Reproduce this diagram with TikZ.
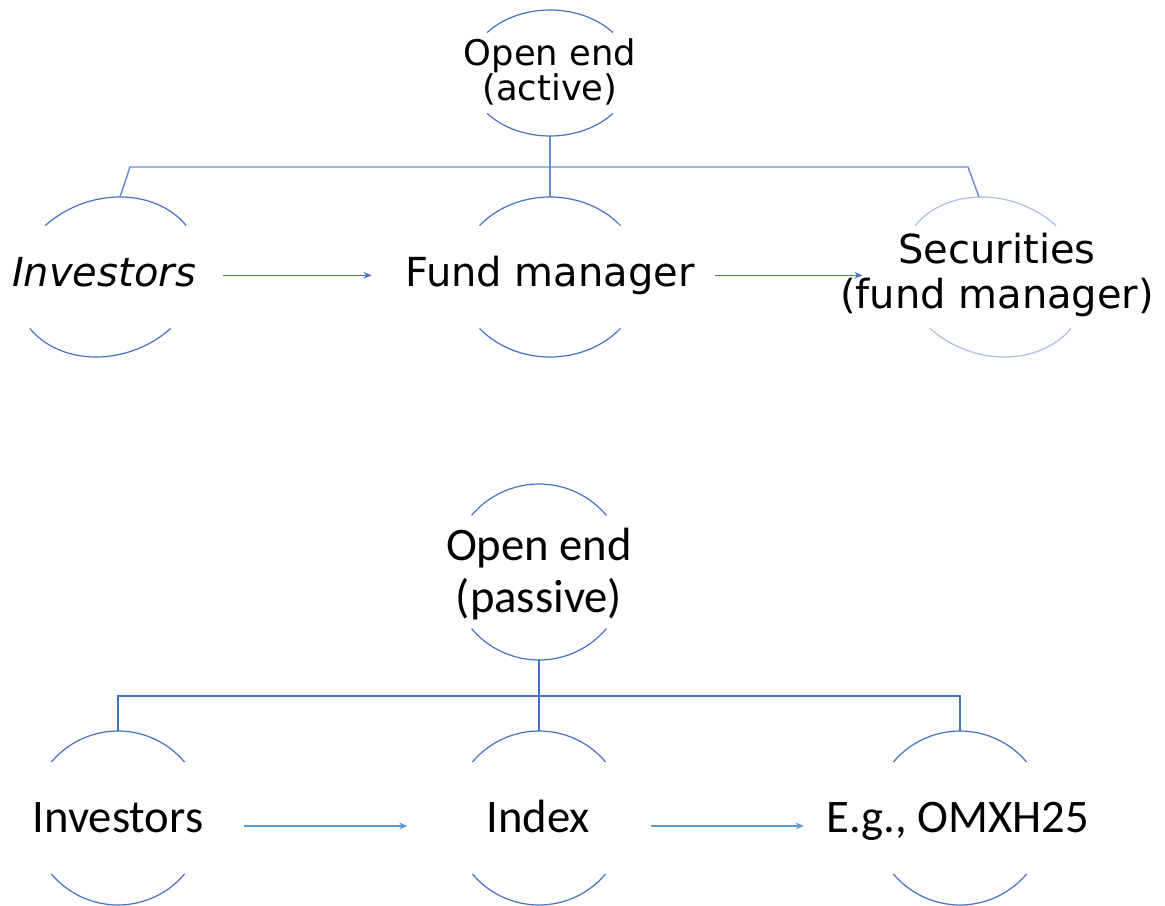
\documentclass[tikz,border=0pt]{standalone}
\usepackage{fontspec}
\setmainfont{Carlito}
\newfontfamily\wideface{DejaVu Sans}
\usetikzlibrary{arrows.meta}
\definecolor{ringblue}{RGB}{68,114,196}
\definecolor{flowblue}{RGB}{91,155,213}
\tikzset{
  ring/.style={draw=ringblue, line width=0.9pt},
  link/.style={draw=ringblue, line width=1.1pt},
  flow/.style={draw=flowblue, line width=1pt, -{Stealth[length=6pt,width=5pt]}},
  toplabel/.style={font=\wideface\fontsize{30}{33.75}\selectfont, align=center, inner sep=0pt},
  lowlabel/.style={font=\fontsize{35}{39}\selectfont, align=center, inner sep=0pt},
}
% top and bottom arcs of an oval, open at the sides
\newcommand{\ovalarcs}[5][]{%
  \begin{scope}[shift={(#2)}, xslant=#5]
    \draw[ring,#1] (40:#3 and #4) arc[start angle=40, end angle=140, x radius=#3, y radius=#4];
    \draw[ring,#1] (220:#3 and #4) arc[start angle=220, end angle=320, x radius=#3, y radius=#4];
  \end{scope}}
\begin{document}
\begin{tikzpicture}[x=0.75pt, y=-0.75pt]
  \useasboundingbox (0,0) rectangle (1165,906);

  % open end (active)
  \coordinate (oac) at (550,73);
  \coordinate (inv1c) at (108,277);
  \coordinate (fm1c) at (550,277);
  \coordinate (sec1c) at (993,277);
  \ovalarcs{oac}{82}{63}{0}
  \ovalarcs{inv1c}{92}{80}{0.15}
  \ovalarcs{fm1c}{92}{80}{0}
  \ovalarcs[draw=ringblue!45]{sec1c}{92}{80}{-0.145}

  \node[toplabel, font=\wideface\fontsize{26.5}{25.5}\selectfont] (oa) at (550,72) {Open end\\(active)};
  \node[toplabel, font=\wideface\itshape\fontsize{30}{33.75}\selectfont, anchor=base] (inv1) at (104,286) {Investors};
  \node[toplabel, anchor=base] (fm1) at (550,286) {Fund manager};
  \node[toplabel] (sec1) at (997,275) {Securities\\(fund manager)};

  \coordinate (oabot) at (550,136);
  \coordinate (bar1l) at (130,167);
  \coordinate (bar1r) at (968,167);
  \coordinate (inv1top) at (120,197);
  \coordinate (fm1top) at (550,197);
  \coordinate (sec1top) at (979,197);
  \draw[link, draw=ringblue!80] (inv1top) -- (bar1l) -- (bar1r) -- (sec1top);
  \draw[link, draw=ringblue!80] (oabot) -- (fm1top);

  \draw[flow, draw=ringblue, shorten <=20pt, shorten >=25pt] ([yshift=8pt]inv1.base east) -- ([yshift=8pt]fm1.base west);
  \draw[flow, draw=ringblue, shorten <=15pt, shorten >=-17pt] ([yshift=8pt]fm1.base east) -- ([yshift=8pt]fm1.base east -| sec1.west);

  % open end (passive)
  \coordinate (opc) at (539,572);
  \coordinate (inv2c) at (118,818);
  \coordinate (idx2c) at (539,818);
  \coordinate (omx2c) at (960,818);
  \ovalarcs{opc}{88}{88}{0}
  \ovalarcs{inv2c}{87}{87}{0}
  \ovalarcs{idx2c}{87}{87}{0}
  \ovalarcs{omx2c}{87}{87}{0}

  \node[lowlabel] (op) at (539,574) {Open end\\(passive)};
  \node[lowlabel, anchor=base] (inv2) at (118,832) {Investors};
  \node[lowlabel, anchor=base] (idx2) at (538,832) {Index};
  \node[lowlabel, anchor=base] (omx2) at (958,832) {E.g., OMXH25};

  \coordinate (opbot) at (539,660);
  \coordinate (bar2l) at (118,696);
  \coordinate (bar2r) at (960,696);
  \coordinate (inv2top) at (118,731);
  \coordinate (idx2top) at (539,731);
  \coordinate (omx2top) at (960,731);
  \draw[link] (inv2top) -- (bar2l) -- (bar2r) -- (omx2top);
  \draw[link] (opbot) -- (idx2top);

  \draw[flow, shorten <=30pt, shorten >=59pt] ([yshift=4.5pt]inv2.base east) -- ([yshift=4.5pt]idx2.base west);
  \draw[flow, shorten <=46pt, shorten >=17pt] ([yshift=4.5pt]idx2.base east) -- ([yshift=4.5pt]omx2.base west);
\end{tikzpicture}
\end{document}
